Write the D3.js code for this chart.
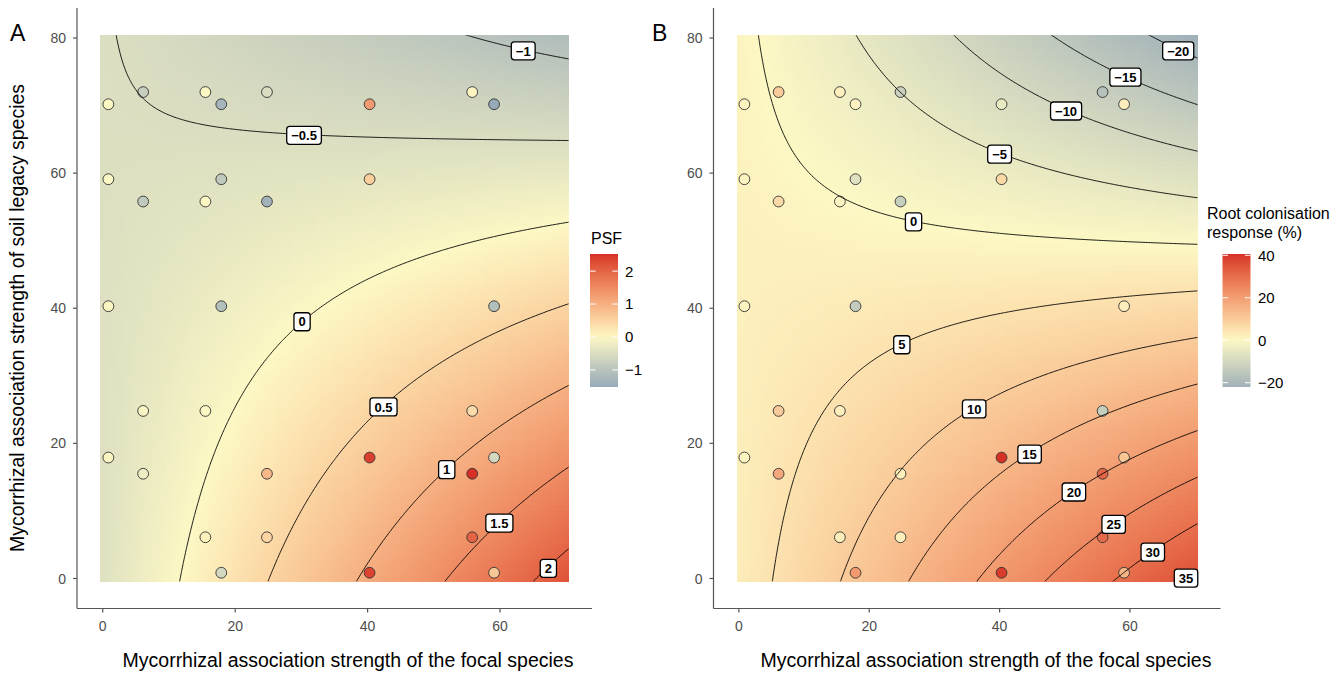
<!DOCTYPE html>
<html>
<head>
<meta charset="utf-8" />
<script src="https://d3js.org/d3.v7.min.js"></script>
<style>
    body { margin: 0; background: #fff; }
    svg { font-family: "Liberation Sans", Arial, sans-serif; }
</style>
</head>
<body>
<div id="chart"></div>
<script>
// association strengths of the species pairs (x = focal, y = soil legacy)
var pointX = [0.85, 6.1, 15.5, 17.9, 24.8, 40.3, 55.8, 59.1,
              0.85, 17.9, 40.3, 6.1, 15.5, 24.8,
              0.85, 17.9, 59.1,
              6.1, 15.5, 55.8, 0.85, 40.3, 59.1, 6.1, 24.8, 55.8,
              15.5, 24.8, 55.8, 17.9, 40.3, 59.1];
var pointY = [70.2, 72.0, 72.0, 70.2, 72.0, 70.2, 72.0, 70.2,
              59.1, 59.1, 59.1, 55.8, 55.8, 55.8,
              40.3, 40.3, 40.3,
              24.8, 24.8, 24.8, 17.9, 17.9, 17.9, 15.5, 15.5, 15.5,
              6.1, 6.1, 6.1, 0.85, 0.85, 0.85];
// observed responses
var psfValues = [0.0, -0.8, 0.0, -1.3, -0.5, 1.3, 0.05, -1.52,
                 0.0, -0.9, 0.6, -0.9, 0.02, -1.35,
                 0.0, -1.1, -1.1,
                 -0.05, 0.0, 0.4, 0.05, 2.4, -0.6, -0.2, 0.9, 2.52,
                 0.1, 0.5, 2.0, -0.6, 2.35, 0.7];
var rootValues = [1, 10, 2, 1, -12, -4, -17, 2,
                  1, -7, 7, 7, 1, -13,
                  1, -14, 2,
                  10, 2, -13, 1, 40.6, 11, 18, 2, 32,
                  2, 2, 31, 21, 39, 15];

// fitted surfaces: z = a + b*x + c*y + d*x*y
var psfCoef = [-0.435, 0.0372, -0.00057, -0.00058];
var rootCoef = [2.535, 0.474, -0.0191, -0.01004];

// contour levels and where their labels sit
var psfLevels = [-1, -0.5, 0, 0.5, 1, 1.5, 2];
var psfLabelX = [63.5, 30.4, 30.1, 42.4, 51.95, 59.9, 67.3];
var psfLabelY = [78.1, 65.6, 38.0, 25.4, 16.1, 8.2, 1.5];
var rootLevels = [-20, -15, -10, -5, 0, 5, 10, 15, 20, 25, 30, 35];
var rootLabelX = [67.4, 59.3, 50.2, 40.0, 26.8, 25.0, 36.1, 44.6, 51.4, 57.5, 63.5, 68.6];
var rootLabelY = [78.1, 74.2, 69.2, 62.8, 52.8, 34.6, 25.1, 18.4, 12.8, 8.0, 3.9, 0.06];

var xTicks = [0, 20, 40, 60];
var yTicks = [0, 20, 40, 60, 80];
var psfTicks = [-1, 0, 1, 2];
var rootTicks = [-20, 0, 20, 40];

var predX = [0, 70], predY = [0, 80], gridN = 100;

function surface(coef, x, y) {
    return coef[0] + coef[1] * x + coef[2] * y + coef[3] * x * y;
}
function minus(v) { return String(v).replace("-", "\u2212"); }

var svg = d3.select("#chart").append("svg")
    .attr("width", 1344).attr("height", 673);

var panels = [
    { letter: "A", values: psfValues, coef: psfCoef, levels: psfLevels,
      labX: psfLabelX, labY: psfLabelY, ticks: psfTicks,
      left: 77, right: 592, letterX: 10, titleX: 348,
      barX: 590, labelX: 625, legendX: 591, legendTitle: ["PSF"], legendY: 244 },
    { letter: "B", values: rootValues, coef: rootCoef, levels: rootLevels,
      labX: rootLabelX, labY: rootLabelY, ticks: rootTicks,
      left: 713.5, right: 1220.5, letterX: 652, titleX: 986,
      barX: 1222.5, labelX: 1258, legendX: 1207, legendTitle: ["Root colonisation", "response (%)"], legendY: 219 }
];

var gx = d3.range(gridN).map(function(i) { return predX[0] + i * (predX[1] - predX[0]) / (gridN - 1); });
var gy = d3.range(gridN).map(function(i) { return predY[0] + i * (predY[1] - predY[0]) / (gridN - 1); });
var hx = (gx[1] - gx[0]) / 2, hy = (gy[1] - gy[0]) / 2;
var ext = { x: [predX[0] - hx, predX[1] + hx], y: [predY[0] - hy, predY[1] + hy] };

panels.forEach(function(p, pi) {
    var padX = (ext.x[1] - ext.x[0]) * 0.05, padY = (ext.y[1] - ext.y[0]) * 0.05;
    var x = d3.scaleLinear().domain([ext.x[0] - padX, ext.x[1] + padX]).range([p.left, p.right]);
    var y = d3.scaleLinear().domain([ext.y[0] - padY, ext.y[1] + padY]).range([608.5, 8]);

    var cells = [];
    gx.forEach(function(xv) {
        gy.forEach(function(yv) { cells.push({ x: xv, y: yv, z: surface(p.coef, xv, yv) }); });
    });
    var zExt = d3.extent(cells.map(function(d) { return d.z; }).concat(p.values));
    var m = Math.max(Math.abs(zExt[0]), Math.abs(zExt[1]));
    var color = d3.scaleLinear().domain([-m, 0, m])
        .range(["#4a7aad", "#fcf8c4", "#d73027"]).interpolate(d3.interpolateLab);

    var g = svg.append("g");

    // raster
    g.append("g").selectAll("rect").data(cells).join("rect")
        .attr("x", function(d) { return x(d.x - hx); })
        .attr("y", function(d) { return y(d.y + hy); })
        .attr("width", function(d) { return x(d.x + hx) - x(d.x - hx) + 0.6; })
        .attr("height", function(d) { return y(d.y - hy) - y(d.y + hy) + 0.6; })
        .attr("fill", function(d) { return color(d.z); })
        .attr("shape-rendering", "crispEdges");

    // points
    g.append("g").selectAll("circle").data(p.values).join("circle")
        .attr("cx", function(d, i) { return x(pointX[i]); })
        .attr("cy", function(d, i) { return y(pointY[i]); })
        .attr("r", 5.4)
        .attr("fill", function(d) { return color(d); })
        .attr("stroke", "#333").attr("stroke-width", 0.9);

    // contours on a finer grid, clipped to the raster
    var cx0 = ext.x[0] - 0.75, cy0 = ext.y[0] - 0.75, cs = 0.25;
    var cnx = Math.ceil((ext.x[1] - ext.x[0] + 1.5) / cs) + 1;
    var cny = Math.ceil((ext.y[1] - ext.y[0] + 1.5) / cs) + 1;
    var cvals = new Array(cnx * cny);
    for (var j = 0; j < cny; j++)
        for (var i = 0; i < cnx; i++)
            cvals[j * cnx + i] = surface(p.coef, cx0 + i * cs, cy0 + j * cs);
    var conts = d3.contours().size([cnx, cny]).thresholds(p.levels)(cvals);

    var clipId = "clip" + pi;
    svg.append("clipPath").attr("id", clipId).append("rect")
        .attr("x", x(ext.x[0])).attr("y", y(ext.y[1]))
        .attr("width", x(ext.x[1]) - x(ext.x[0])).attr("height", y(ext.y[0]) - y(ext.y[1]));

    function ringPath(ring) {
        return "M" + ring.map(function(q) {
            return [x(cx0 + (q[0] - 0.5) * cs), y(cy0 + (q[1] - 0.5) * cs)].join(",");
        }).join("L") + "Z";
    }
    g.append("g").attr("clip-path", "url(#" + clipId + ")")
        .selectAll("path").data(conts).join("path")
        .attr("d", function(c) {
            return c.coordinates.map(function(poly) { return poly.map(ringPath).join(""); }).join("");
        })
        .attr("fill", "none").attr("stroke", "#000").attr("stroke-width", 0.9);

    // contour labels
    var lab = g.append("g").selectAll("g").data(p.levels).join("g")
        .attr("transform", function(d, i) { return "translate(" + x(p.labX[i]) + "," + y(p.labY[i]) + ")"; });
    var rects = lab.append("rect");
    var txt = lab.append("text").text(minus)
        .attr("text-anchor", "middle").attr("dy", "0.36em")
        .attr("font-size", 13).attr("font-weight", "bold");
    txt.each(function(d, i) {
        var w = this.getComputedTextLength() + 9;
        d3.select(rects.nodes()[i])
            .attr("x", -w / 2).attr("y", -9).attr("width", w).attr("height", 18)
            .attr("rx", 3).attr("fill", "#fff").attr("stroke", "#000").attr("stroke-width", 1.3);
    });

    // axes
    g.append("line").attr("x1", p.left).attr("x2", p.left).attr("y1", 8).attr("y2", 608.5)
        .attr("stroke", "#555").attr("stroke-width", 1.2);
    g.append("line").attr("x1", p.left).attr("x2", p.right).attr("y1", 608.5).attr("y2", 608.5)
        .attr("stroke", "#555").attr("stroke-width", 1.2);
    g.append("g").selectAll("line").data(xTicks).join("line")
        .attr("x1", x).attr("x2", x).attr("y1", 608.5).attr("y2", 612.5)
        .attr("stroke", "#555").attr("stroke-width", 1.2);
    g.append("g").selectAll("text").data(xTicks).join("text")
        .attr("x", x).attr("y", 630.5).attr("text-anchor", "middle")
        .attr("font-size", 14).attr("fill", "#4d4d4d").text(function(d) { return d; });
    g.append("g").selectAll("line").data(yTicks).join("line")
        .attr("y1", y).attr("y2", y).attr("x1", p.left - 4).attr("x2", p.left)
        .attr("stroke", "#555").attr("stroke-width", 1.2);
    g.append("g").selectAll("text").data(yTicks).join("text")
        .attr("y", y).attr("x", p.left - 11).attr("dy", "0.36em").attr("text-anchor", "end")
        .attr("font-size", 14).attr("fill", "#4d4d4d").text(function(d) { return d; });

    g.append("text").attr("x", p.titleX).attr("y", 667).attr("text-anchor", "middle")
        .attr("font-size", 19.5).attr("fill", "#000")
        .text("Mycorrhizal association strength of the focal species");
    g.append("text").attr("x", p.letterX).attr("y", 41).attr("font-size", 23).text(p.letter);

    // colour bar
    var barY = d3.scaleLinear().domain(zExt).range([387, 254]);
    var gradId = "grad" + pi;
    svg.append("defs").append("linearGradient").attr("id", gradId)
        .attr("x1", 0).attr("x2", 0).attr("y1", 1).attr("y2", 0)
        .selectAll("stop").data(d3.range(21)).join("stop")
        .attr("offset", function(k) { return k / 20; })
        .attr("stop-color", function(k) { return color(zExt[0] + (zExt[1] - zExt[0]) * k / 20); });
    g.append("rect").attr("x", p.barX).attr("y", 254).attr("width", 28).attr("height", 133)
        .attr("fill", "url(#" + gradId + ")");
    var tk = g.append("g").selectAll("g").data(p.ticks).join("g");
    tk.append("line").attr("x1", p.barX).attr("x2", p.barX + 5.6)
        .attr("y1", barY).attr("y2", barY).attr("stroke", "#fff").attr("stroke-width", 1);
    tk.append("line").attr("x1", p.barX + 22.4).attr("x2", p.barX + 28)
        .attr("y1", barY).attr("y2", barY).attr("stroke", "#fff").attr("stroke-width", 1);
    tk.append("text").attr("x", p.labelX).attr("y", barY).attr("dy", "0.36em")
        .attr("font-size", 15).text(minus);
    g.append("g").selectAll("text").data(p.legendTitle).join("text")
        .attr("x", p.legendX).attr("y", function(d, i) { return p.legendY + i * 19; })
        .attr("font-size", 16).text(function(d) { return d; });
});

svg.append("text")
    .attr("transform", "translate(24,318) rotate(-90)")
    .attr("text-anchor", "middle").attr("font-size", 19.5)
    .text("Mycorrhizal association strength of soil legacy species");
</script>
</body>
</html>
